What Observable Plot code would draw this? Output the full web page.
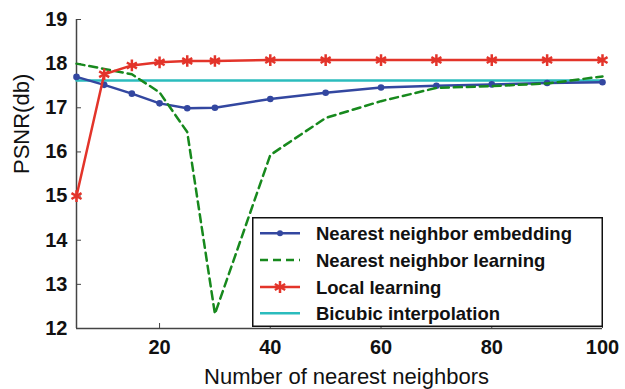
<!DOCTYPE html>
<html>
<head>
<meta charset="utf-8">
<script src="https://cdn.jsdelivr.net/npm/d3@7"></script>
<script src="https://cdn.jsdelivr.net/npm/@observablehq/plot@0.6"></script>
<style>
  html, body { margin: 0; padding: 0; background: #fff; }
  #wrap { position: relative; width: 625px; height: 389px; font-family: "Liberation Sans", Arial, Helvetica, sans-serif; }
  #legend { position: absolute; left: 252px; top: 217px; }
</style>
</head>
<body>
<div id="wrap"></div>
<script>
const neighbors = [5, 10, 15, 20, 25, 30, 40, 50, 60, 70, 80, 90, 100];
const nnEmbedding = [17.70, 17.52, 17.32, 17.10, 16.99, 17.00, 17.20, 17.34, 17.46, 17.50, 17.53, 17.56, 17.58];
const nnLearning  = [18.00, 17.88, 17.76, 17.35, 16.45, 12.33, 15.93, 16.77, 17.15, 17.45, 17.49, 17.55, 17.71];
const localLearning = [15.00, 17.76, 17.96, 18.03, 18.06, 18.06, 18.08, 18.08, 18.08, 18.08, 18.08, 18.08, 18.08];
const bicubic = [17.62, 17.62, 17.62, 17.62, 17.62, 17.62, 17.62, 17.62, 17.62, 17.62, 17.62, 17.62, 17.62];
const xTicks = [20, 40, 60, 80, 100];
const yTicks = [12, 13, 14, 15, 16, 17, 18, 19];
const seriesNames = ["Nearest neighbor embedding", "Nearest neighbor learning", "Local learning", "Bicubic interpolation"];
const colors = {blue: "#3347a0", green: "#17891d", red: "#e3342a", cyan: "#2bbcbd"};

const toRows = (vals) => neighbors.map((x, i) => ({x, y: vals[i]}));
const blue = toRows(nnEmbedding), green = toRows(nnLearning), red = toRows(localLearning), cyan = toRows(bicubic);

const chart = Plot.plot({
  width: 625,
  height: 389,
  marginLeft: 76,
  marginRight: 23,
  marginTop: 19,
  marginBottom: 61,
  style: {fontFamily: '"Liberation Sans", Arial, Helvetica, sans-serif', color: "#111", background: "#fff"},
  x: {domain: [5, 100]},
  y: {domain: [12, 19]},
  marks: [
    Plot.axisX({ticks: xTicks, tickFormat: "d", tickSize: -5, tickPadding: 16, fontSize: 20, fontWeight: "bold", label: null, stroke: "#444", fill: "#111"}),
    Plot.axisY({ticks: yTicks, tickFormat: "d", tickSize: -5, tickPadding: 14, fontSize: 20, fontWeight: "bold", label: null, stroke: "#444", fill: "#111"}),
    Plot.ruleX([5], {stroke: "#444", strokeWidth: 1.5}),
    Plot.ruleY([12], {stroke: "#444", strokeWidth: 1.5}),
    Plot.line(cyan, {x: "x", y: "y", stroke: colors.cyan, strokeWidth: 2.5}),
    Plot.line(blue, {x: "x", y: "y", stroke: colors.blue, strokeWidth: 2.5}),
    Plot.dot(blue, {x: "x", y: "y", r: 3.3, fill: colors.blue}),
    Plot.line(green, {x: "x", y: "y", stroke: colors.green, strokeWidth: 2.5, strokeDasharray: "8,5"}),
    Plot.line(red, {x: "x", y: "y", stroke: colors.red, strokeWidth: 2.5}),
    Plot.dot(red, {x: "x", y: "y", symbol: "asterisk", r: 5.5, stroke: colors.red, strokeWidth: 2.5}),
    Plot.text(["Number of nearest neighbors"], {frameAnchor: "bottom", dx: 7, dy: 48, fontSize: 22, fill: "#111", lineAnchor: "middle"}),
    Plot.text(["PSNR(db)"], {frameAnchor: "left", dx: -55, dy: 0, rotate: -90, fontSize: 22, fill: "#111", lineAnchor: "middle"})
  ]
});
document.getElementById("wrap").appendChild(chart);

// Legend (overlay)
const lw = 351, lh = 110;
const legend = d3.create("svg").attr("id", "legend").attr("width", lw).attr("height", lh);
legend.append("rect").attr("x", 0.75).attr("y", 0.75).attr("width", lw - 1.5).attr("height", lh - 1.5)
  .attr("fill", "#fff").attr("stroke", "#111").attr("stroke-width", 1.5);
const rowsY = [16.3, 43, 70, 96.3];
const styles = [
  {stroke: colors.blue, dash: null, marker: "dot"},
  {stroke: colors.green, dash: "8,5", marker: null},
  {stroke: colors.red, dash: null, marker: "asterisk"},
  {stroke: colors.cyan, dash: null, marker: null}
];
seriesNames.forEach((name, i) => {
  const y = rowsY[i], s = styles[i];
  const ln = legend.append("line").attr("x1", 8).attr("x2", 48).attr("y1", y).attr("y2", y)
    .attr("stroke", s.stroke).attr("stroke-width", 2.5);
  if (s.dash) ln.attr("stroke-dasharray", s.dash);
  if (s.marker === "dot") legend.append("circle").attr("cx", 28).attr("cy", y).attr("r", 3).attr("fill", s.stroke);
  if (s.marker === "asterisk") legend.append("path").attr("transform", `translate(28,${y})`)
    .attr("d", d3.symbol(d3.symbolAsterisk, 100)()).attr("stroke", s.stroke).attr("stroke-width", 2.5).attr("fill", "none");
  legend.append("text").attr("x", 64).attr("y", y).attr("dy", "0.36em")
    .attr("font-size", 18.5).attr("font-weight", "bold").attr("fill", "#111")
    .attr("font-family", '"Liberation Sans", Arial, Helvetica, sans-serif').text(name);
});
document.getElementById("wrap").appendChild(legend.node());
</script>
</body>
</html>
